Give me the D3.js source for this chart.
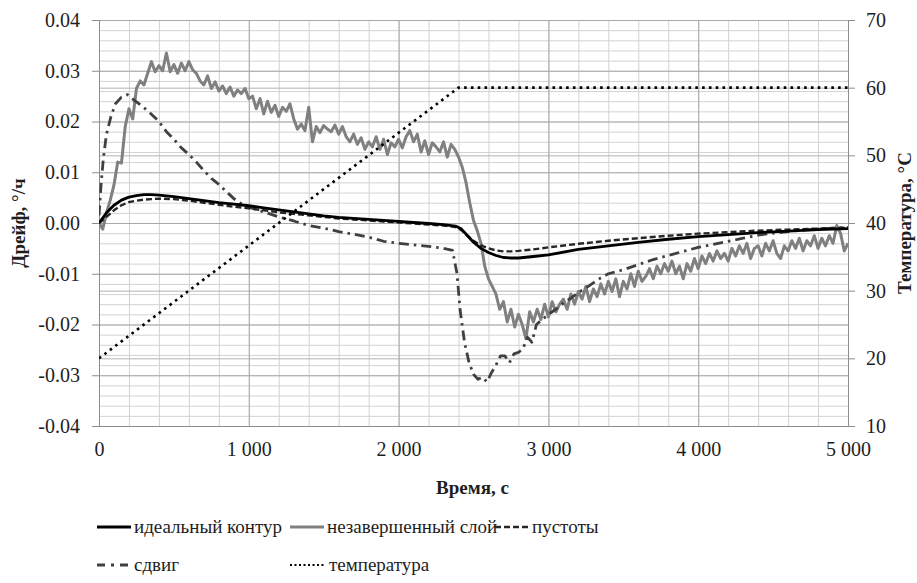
<!DOCTYPE html>
<html>
<head>
<meta charset="utf-8">
<script src="https://cdn.jsdelivr.net/npm/d3@7"></script>
</head>
<body style="margin:0">
<svg id="s" width="917" height="583"></svg>
<script>
// time in s, drift in %/h, temperature in °C
const leftTicks = [-0.04, -0.03, -0.02, -0.01, 0, 0.01, 0.02, 0.03, 0.04];
const leftTickLabels = ['-0.04', '-0.03', '-0.02', '-0.01', '0.00', '0.01', '0.02', '0.03', '0.04'];
const rightTicks = [10, 20, 30, 40, 50, 60, 70];
const xTicks = [0, 1000, 2000, 3000, 4000, 5000];
const xTickLabels = ['0', '1 000', '2 000', '3 000', '4 000', '5 000'];

const idealT = [0,50,100,150,200,250,300,350,400,500,600,700,800,900,1000,1100,1200,1300,1400,1500,1600,1700,1800,1900,
  2000,2100,2200,2300,2380,2420,2460,2500,2550,2600,2650,2700,2750,2800,2900,3000,3200,3400,3600,3800,4000,4200,4400,4600,4800,5000];
const idealV = [0,.0020,.0035,.0045,.0051,.0054,.0056,.0056,.0055,.0052,.0048,.0044,.0040,.0037,.0034,.0030,.0026,.0022,.0018,
  .0014,.0011,.0009,.0007,.0005,.0003,.0001,-.0001,-.0003,-.0006,-.0012,-.0025,-.0038,-.0050,-.0058,-.0064,-.0068,-.0069,
  -.0069,-.0066,-.0063,-.0052,-.0045,-.0038,-.0032,-.0027,-.0023,-.0019,-.0016,-.0013,-.0011];

const voidsT = idealT;
const voidsV = [0,.0012,.0025,.0035,.0041,.0044,.0046,.0047,.0048,.0047,.0044,.0040,.0036,.0032,.0029,.0025,.0021,.0018,.0015,
  .0012,.0009,.0007,.0005,.0003,.0001,-.0001,-.0003,-.0005,-.0008,-.0014,-.0025,-.0035,-.0044,-.0050,-.0054,-.0056,-.0056,
  -.0055,-.0052,-.0048,-.0041,-.0035,-.0030,-.0025,-.0021,-.0018,-.0015,-.0013,-.0011,-.0009];

// sampled every 25 s
const unfinishedT = d3.range(0, 5001, 25);
const unfinishedV = [0,-.0012,.0020,.0045,.0075,.0120,.0118,.0190,.0225,.0205,.0265,.0280,.0272,.0295,.0318,.0298,
  .0310,.0300,.0335,.0298,.0312,.0295,.0315,.0300,.0318,.0302,.0295,.0280,.0272,.0290,.0265,.0278,
  .0260,.0270,.0255,.0268,.0250,.0262,.0255,.0265,.0245,.0250,.0225,.0245,.0215,.0240,.0218,.0232,
  .0210,.0228,.0220,.0235,.0205,.0185,.0195,.0182,.0228,.0160,.0190,.0178,.0192,.0185,.0180,.0193,
  .0175,.0190,.0170,.0160,.0175,.0155,.0168,.0145,.0160,.0150,.0170,.0145,.0165,.0135,.0158,.0150,
  .0165,.0148,.0170,.0182,.0160,.0175,.0140,.0162,.0135,.0158,.0150,.0140,.0160,.0130,.0155,.0145,
  .0130,.0110,.0080,.0040,.0005,-.0015,-.0040,-.0085,-.0110,-.0125,-.0140,-.0170,-.0155,-.0195,-.0170,-.0205,
  -.0180,-.0200,-.0228,-.0175,-.0195,-.0170,-.0190,-.0160,-.0185,-.0155,-.0175,-.0160,-.0150,-.0170,-.0140,-.0160,
  -.0135,-.0150,-.0125,-.0155,-.0130,-.0145,-.0120,-.0140,-.0115,-.0135,-.0110,-.0145,-.0115,-.0130,-.0100,-.0125,
  -.0095,-.0115,-.0105,-.0090,-.0110,-.0085,-.0100,-.0080,-.0095,-.0075,-.0100,-.0085,-.0110,-.0080,-.0095,-.0070,
  -.0090,-.0065,-.0080,-.0060,-.0075,-.0055,-.0070,-.0060,-.0075,-.0050,-.0065,-.0045,-.0060,-.0040,-.0070,-.0050,
  -.0045,-.0065,-.0040,-.0055,-.0035,-.0060,-.0070,-.0045,-.0055,-.0035,-.0050,-.0030,-.0055,-.0035,-.0045,-.0025,
  -.0050,-.0030,-.0045,-.0025,-.0040,-.0005,-.0020,-.0055,-.0040];

const shearT = [0,15,30,50,80,110,150,190,230,280,330,400,450,500,550,600,650,700,750,800,850,900,950,1000,1100,1200,1300,
  1400,1500,1600,1700,1800,1900,2000,2100,2200,2300,2360,2390,2410,2440,2470,2500,2530,2560,2590,2620,2650,2680,2710,2740,
  2770,2800,2830,2860,2890,2920,2960,3000,3050,3100,3150,3200,3250,3300,3350,3400,3500,3600,3700,3800,3900,4000,4100,4200,
  4300,4400,4500,4600,4700,4800,4900,5000];
const shearV = [.0015,.0080,.0130,.0175,.0210,.0235,.0248,.0253,.0243,.0232,.0220,.0200,.0180,.0165,.0148,.0135,.0120,.0103,
  .0088,.0076,.0062,.0048,.0038,.0031,.0022,.0012,.0004,-.0005,-.0010,-.0017,-.0022,-.0028,-.0036,-.0040,-.0043,-.0046,
  -.0050,-.0054,-.0100,-.0170,-.0235,-.0275,-.0298,-.0308,-.0304,-.0313,-.0295,-.0280,-.0262,-.0262,-.0275,-.0258,-.0255,
  -.0248,-.0225,-.0235,-.0200,-.0190,-.0180,-.0170,-.0158,-.0148,-.0137,-.0128,-.0118,-.0108,-.0100,-.0092,-.0082,-.0072,
  -.0064,-.0056,-.0048,-.0042,-.0036,-.0030,-.0024,-.0020,-.0017,-.0014,-.0012,-.0010,-.0009];

const temperatureT = [0, 2400, 5000];
const temperatureV = [20, 60, 60];

const zip = (t, v) => t.map((d, i) => [d, v[i]]);
const series = [
  { data: zip(unfinishedT, unfinishedV), color: '#808080', width: 3, dash: null },
  { data: zip(shearT, shearV), color: '#404040', width: 2.8, dash: '10 5 2.5 5' },
  { data: zip(voidsT, voidsV), color: '#262626', width: 2.4, dash: '6 3' },
  { data: zip(idealT, idealV), color: '#000', width: 2.8, dash: null }
];

const svg = d3.select('#s');
const L = 99, R = 848, T = 20, B = 426;
const FONT = 'Liberation Serif';

const x = d3.scaleLinear().domain([0, 5000]).range([L, R]);
const y = d3.scaleLinear().domain([-0.04, 0.04]).range([B, T]);
const y2 = d3.scaleLinear().domain([10, 70]).range([B, T]);

// put the serif face on a text node, inline and important
const serif = sel => sel.attr('font-family', FONT).style('font-family', FONT, 'important');

// grid: minor first, majors on top
const grid = svg.append('g');
const gridLines = (axis, tr, color) => grid.append('g').attr('transform', tr)
  .call(axis.tickFormat(''))
  .call(g => g.select('.domain').remove())
  .call(g => g.selectAll('text').remove())
  .selectAll('line').attr('stroke', color);

gridLines(d3.axisBottom(x).tickValues(d3.range(0, 5001, 200)).tickSize(-(B - T)), `translate(0,${B})`, '#d2d2d2');
gridLines(d3.axisLeft(y).tickValues(d3.range(-40, 41, 2).map(v => v / 1000)).tickSize(-(R - L)), `translate(${L},0)`, '#d2d2d2');
gridLines(d3.axisLeft(y2).tickValues(rightTicks).tickSize(-(R - L)), `translate(${L},0)`, '#b4b4b4');
gridLines(d3.axisBottom(x).tickValues(xTicks).tickSize(-(B - T)), `translate(0,${B})`, '#a8a8a8');
gridLines(d3.axisLeft(y).tickValues(leftTicks).tickSize(-(R - L)), `translate(${L},0)`, '#a8a8a8');

// axes
const axisStyle = g => {
  g.attr('font-family', FONT).attr('font-size', 20);
  g.select('.domain').attr('stroke', '#8c8c8c');
  g.selectAll('.tick line').attr('stroke', '#8c8c8c');
  g.selectAll('.tick text').attr('fill', '#1e1e1e').call(serif);
};

svg.append('g').attr('transform', `translate(${L},0)`)
  .call(d3.axisLeft(y).tickValues(leftTicks).tickSize(7).tickPadding(12)
    .tickFormat((d, i) => leftTickLabels[i]))
  .call(axisStyle);

svg.append('g').attr('transform', `translate(${R},0)`)
  .call(d3.axisRight(y2).tickValues(rightTicks).tickSize(7).tickPadding(11))
  .call(axisStyle);

svg.append('g').attr('transform', `translate(0,${B})`)
  .call(d3.axisBottom(x).tickValues(xTicks).tickSize(0).tickPadding(16)
    .tickFormat((d, i) => xTickLabels[i]))
  .call(axisStyle);

// axis titles
svg.append('text').attr('x', (L + R) / 2 - 1).attr('y', 494)
  .attr('text-anchor', 'middle').attr('font-size', 19).attr('font-weight', 'bold').attr('fill', '#1e1e1e')
  .call(serif).text('Время, с');
svg.append('text').attr('transform', `translate(25,${(T + B) / 2}) rotate(-90)`)
  .attr('text-anchor', 'middle').attr('font-size', 19).attr('font-weight', 'bold').attr('fill', '#1e1e1e')
  .call(serif).text('Дрейф, °/ч');
svg.append('text').attr('transform', `translate(911,${(T + B) / 2}) rotate(-90)`)
  .attr('text-anchor', 'middle').attr('font-size', 19).attr('font-weight', 'bold').attr('fill', '#1e1e1e')
  .call(serif).text('Температура, °С');

// lines
svg.append('clipPath').attr('id', 'plot')
  .append('rect').attr('x', L).attr('y', T - 2).attr('width', R - L).attr('height', B - T + 4);

const line = d3.line().x(d => x(d[0])).y(d => y(d[1]));
const plot = svg.append('g').attr('clip-path', 'url(#plot)');
series.forEach(s => {
  plot.append('path').datum(s.data)
    .attr('fill', 'none').attr('stroke', s.color).attr('stroke-width', s.width)
    .attr('stroke-linejoin', 'round')
    .attr('stroke-dasharray', s.dash)
    .attr('d', line);
});
plot.append('path').datum(zip(temperatureT, temperatureV))
  .attr('fill', 'none').attr('stroke', '#000').attr('stroke-width', 2.6)
  .attr('stroke-dasharray', '2.6 4.2')
  .attr('d', d3.line().x(d => x(d[0])).y(d => y2(d[1])));

// legend
const legendItems = [
  { name: 'идеальный контур', color: '#000', width: 3, dash: null, x: 97, y: 527 },
  { name: 'незавершенный слой', color: '#808080', width: 3, dash: null, x: 290, y: 527 },
  { name: 'пустоты', color: '#262626', width: 2.4, dash: '6 3', x: 495, y: 527 },
  { name: 'сдвиг', color: '#404040', width: 3, dash: '8 6 3 6', x: 97, y: 565 },
  { name: 'температура', color: '#000', width: 2.2, dash: '2 2.5', x: 290, y: 565 }
];
legendItems.forEach(d => {
  svg.append('line').attr('x1', d.x).attr('x2', d.x + 34).attr('y1', d.y).attr('y2', d.y)
    .attr('stroke', d.color).attr('stroke-width', d.width)
    .attr('stroke-dasharray', d.dash);
  svg.append('text').attr('x', d.x + (d.name === 'температура' ? 39 : 37)).attr('y', d.y + 6)
    .attr('font-size', 19).attr('fill', '#1e1e1e')
    .call(serif).text(d.name);
});
</script>
</body>
</html>
